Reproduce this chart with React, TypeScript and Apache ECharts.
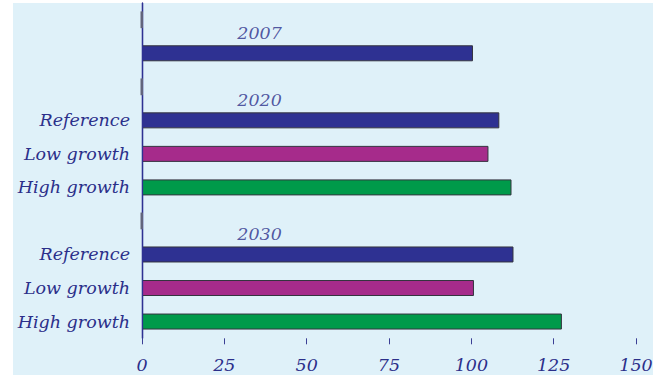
import React, { useEffect, useRef } from "react";
import * as echarts from "echarts";

// Row layout of the category axis (top to bottom)
const rowLabels = ["", "", "", "Reference", "Low growth", "High growth", "", "Reference", "Low growth", "High growth"];
// Index values per row (null = header / spacer rows)
const barValues: (number | null)[] = [null, 100.5, null, 108.5, 105.2, 112.2, null, 112.8, 100.8, 127.5];
const scenarioOfRow = ["", "ref", "", "ref", "low", "high", "", "ref", "low", "high"];
const scenarioColors: Record<string, string> = { ref: "#2e3192", low: "#a62b8b", high: "#009a4a" };

// Year headings and the rows they sit above
const years = ["2007", "2020", "2030"];
const yearRows = [0, 2, 6];
const yearLabelX = 35.7;

const xTicks = { min: 0, max: 150, interval: 25 };

const textColor = "#2b2f8a";
const axisColor = "#2e3192";
const fontFamily = "'DejaVu Serif', serif";

export default function App() {
  const ref = useRef<HTMLDivElement>(null);

  useEffect(() => {
    if (!ref.current) return;
    const chart = echarts.init(ref.current, undefined, { renderer: "svg" });

    const barData = barValues.map((v, i) =>
      v == null
        ? null
        : {
            value: v,
            itemStyle: { color: scenarioColors[scenarioOfRow[i]] },
          }
    );

    chart.setOption({
      animation: false,
      backgroundColor: "transparent",
      grid: { left: 142, right: 27, top: 3, bottom: 36.7 },
      xAxis: {
        type: "value",
        min: xTicks.min,
        max: xTicks.max,
        interval: xTicks.interval,
        axisLine: { show: false },
        splitLine: { show: false },
        axisTick: { show: true, length: 6, lineStyle: { color: "#3b3f95", width: 1 } },
        axisLabel: {
          margin: 18,
          color: textColor,
          fontFamily,
          fontStyle: "italic",
          fontSize: 17.5,
        },
      },
      yAxis: {
        type: "category",
        inverse: true,
        data: rowLabels,
        axisLine: { show: true, onZero: false, lineStyle: { color: axisColor, width: 1.3 } },
        axisTick: { show: false },
        axisLabel: {
          margin: 12,
          color: textColor,
          fontFamily,
          fontStyle: "italic",
          fontSize: 17.5,
        },
      },
      series: [
        {
          type: "bar",
          data: barData,
          barWidth: 16,
          itemStyle: { borderColor: "#34343f", borderWidth: 1 },
          // Vertical baseline at zero
          markLine: {
            silent: true,
            symbol: "none",
            label: { show: false },
            lineStyle: { color: axisColor, width: 1.3, type: "solid" },
            data: [{ xAxis: 0 }],
          },
        },
        {
          // Year headings above each group
          type: "scatter",
          symbolSize: 0,
          data: yearRows.map((r, i) => ({ value: [yearLabelX, r], name: years[i] })),
          label: {
            show: true,
            position: "inside",
            offset: [0, 13.5],
            formatter: (p: any) => p.name,
            color: textColor,
            fontFamily,
            fontStyle: "italic",
            fontSize: 17.5,
          },
          z: 5,
        },
        {
          // Grey group separators on the vertical axis
          type: "custom",
          data: yearRows.map((r) => [0, r]),
          renderItem: (_params: any, api: any) => {
            const p = api.coord([0, api.value(1)]);
            const h = api.size([0, 1])[1] * 0.5;
            return {
              type: "rect",
              shape: { x: p[0] - 1.5, y: p[1] - h / 2, width: 2.5, height: h },
              style: { fill: "#62647c" },
            };
          },
          z: 6,
        },
      ],
    });

    return () => chart.dispose();
  }, []);

  return (
    <div style={{ position: "fixed", left: 0, top: 0, width: 663, height: 375, background: "#fff" }}>
      <div
        style={{
          position: "absolute",
          left: 13,
          top: 3,
          width: 640,
          height: 372,
          background: "#dff1f9",
        }}
      />
      <div ref={ref} style={{ position: "absolute", left: 0, top: 0, width: 663, height: 375 }} />
    </div>
  );
}
